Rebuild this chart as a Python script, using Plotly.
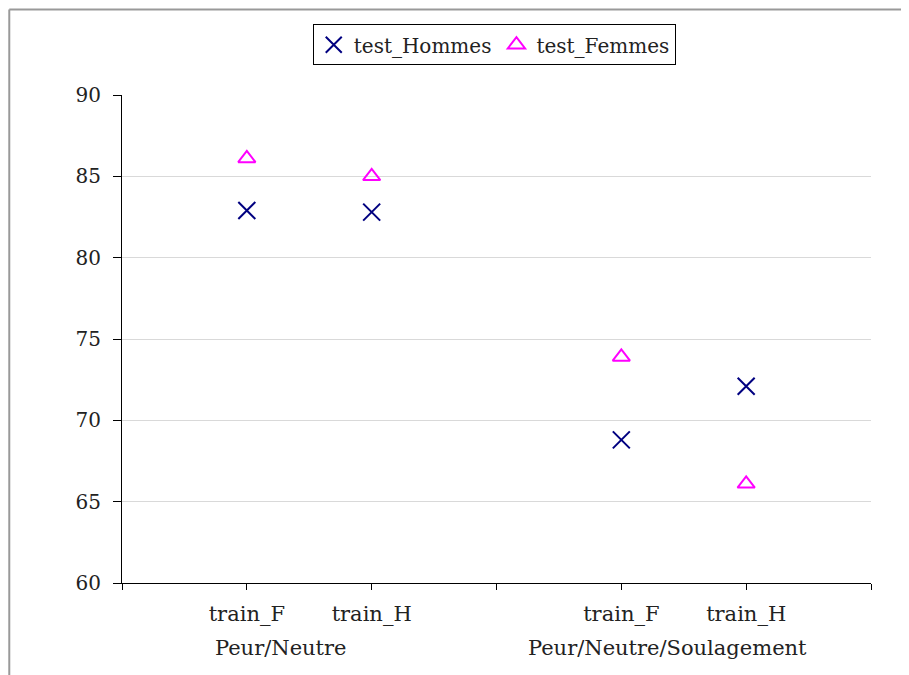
import plotly.graph_objects as go

# categories (slot positions on the axis: 0..6, empty slots are spacers)
categories = ["", "train_F", "train_H", "", "train_F", "train_H", ""]
groups = ["Peur/Neutre", "Peur/Neutre/Soulagement"]

# values per category slot (None = no point)
test_hommes = [None, 82.9, 82.8, None, 68.8, 72.1, None]
test_femmes = [None, 86.1, 85.0, None, 73.9, 66.1, None]

y_ticks = [60, 65, 70, 75, 80, 85, 90]

FONT = "DejaVu Serif"
TXT = "#222222"
slots = list(range(len(categories)))

fig = go.Figure()

fig.add_trace(go.Scatter(
    x=slots, y=test_hommes, mode="markers", name="test_Hommes",
    marker=dict(symbol="x-thin-open", size=17, color="#000080",
                line=dict(color="#000080", width=2)),
))
fig.add_trace(go.Scatter(
    x=slots, y=test_femmes, mode="markers", name="test_Femmes",
    marker=dict(symbol="triangle-up-open", size=15, color="#FF00FF",
                line=dict(color="#FF00FF", width=2)),
))

# group labels under the category labels
group_x = [1.27, 4.37]
annotations = [
    dict(x=gx, y=-0.133, xref="x", yref="paper", yanchor="middle", text=g,
         showarrow=False, font=dict(family=FONT, size=21, color=TXT))
    for gx, g in zip(group_x, groups)
]

# outer chart frame (partly cropped in the reference)
shapes = [
    dict(type="line", xref="paper", yref="paper", x0=-0.1505, x1=-0.1505,
         y0=1.175, y1=-0.25, line=dict(color="#999999", width=2)),
    dict(type="line", xref="paper", yref="paper", x0=-0.1505, x1=1.1,
         y0=1.175, y1=1.175, line=dict(color="#999999", width=2)),
]

# page body has an 8px margin, so margins are shifted to compensate
fig.update_layout(
    width=909, height=675,
    margin=dict(l=114, r=46, t=87, b=100),
    paper_bgcolor="white", plot_bgcolor="white",
    font=dict(family=FONT, size=21, color=TXT),
    showlegend=True,
    legend=dict(orientation="h", x=0.497, xanchor="center", y=1.145, yanchor="top",
                bordercolor="black", borderwidth=1, itemwidth=30,
                font=dict(family=FONT, size=20, color=TXT)),
    xaxis=dict(range=[0, 6], tickvals=slots, ticktext=categories,
               showgrid=False, zeroline=False, showline=True, linecolor="black",
               linewidth=1, ticks="outside", ticklen=6, tickcolor="black",
               ticklabelstandoff=6,
               tickfont=dict(family=FONT, size=21, color=TXT)),
    yaxis=dict(range=[60, 90], tickvals=y_ticks, showgrid=True, gridcolor="#d9d9d9",
               zeroline=False, showline=True, linecolor="black", linewidth=1,
               ticks="outside", ticklen=8, tickcolor="black",
               ticklabelstandoff=8,
               tickfont=dict(family=FONT, size=20, color=TXT)),
    annotations=annotations,
    shapes=shapes,
)

fig.write_html("out.html")
